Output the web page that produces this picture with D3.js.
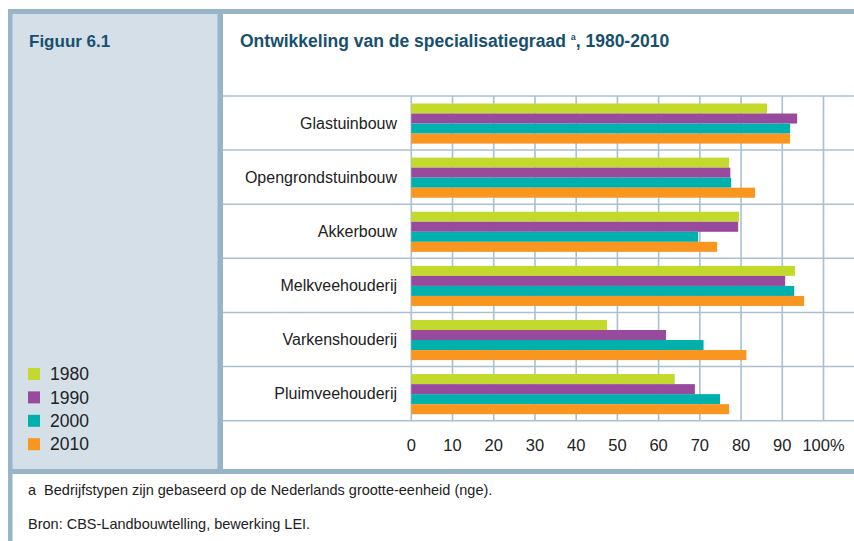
<!DOCTYPE html>
<html>
<head>
<meta charset="utf-8">
<script src="https://cdn.jsdelivr.net/npm/d3@7"></script>
<style>
  body { margin: 0; background: #fff; }
  svg text { font-family: "Liberation Sans", Arial, sans-serif; }
</style>
</head>
<body>
<script>
const categories = ['Glastuinbouw', 'Opengrondstuinbouw', 'Akkerbouw', 'Melkveehouderij', 'Varkenshouderij', 'Pluimveehouderij']
const years = ['1980', '1990', '2000', '2010']
const colors = ['#c3d92c', '#984b9c', '#00b0ad', '#f8961f']
const values1980 = [86.3, 77.1, 79.5, 93.1, 47.5, 63.9]
const values1990 = [93.6, 77.4, 79.3, 90.7, 61.8, 68.8]
const values2000 = [91.9, 77.6, 69.6, 92.9, 70.9, 74.9]
const values2010 = [91.9, 83.4, 74.2, 95.3, 81.3, 77.1]
const xTicks = [0, 10, 20, 30, 40, 50, 60, 70, 80, 90, 100]

const series = [values1980, values1990, values2000, values2010]

const W = 854, H = 541
const frame = '#97b4c8', panel = '#d4dfe8', grid = '#a9c0d1', titleColor = '#17506e'

let svg = d3.select('body').append('svg')
    .attr('width', W)
    .attr('height', H)

// frame and left panel
svg.append('rect').attr('x', 8).attr('y', 9).attr('width', 214).attr('height', 465).attr('fill', panel)
svg.append('rect').attr('x', 8).attr('y', 9).attr('width', W - 8).attr('height', 5).attr('fill', frame)
svg.append('rect').attr('x', 8).attr('y', 9).attr('width', 4.5).attr('height', H - 9).attr('fill', frame)
svg.append('rect').attr('x', 217.5).attr('y', 9).attr('width', 5.5).attr('height', 465).attr('fill', frame)
svg.append('rect').attr('x', 8).attr('y', 469).attr('width', W - 8).attr('height', 5).attr('fill', frame)

svg.append('text')
    .attr('x', 29).attr('y', 47)
    .attr('fill', titleColor)
    .attr('font-size', 17).attr('font-weight', 'bold')
    .text('Figuur 6.1')

let title = svg.append('text')
    .attr('x', 240).attr('y', 47)
    .attr('fill', titleColor)
    .attr('font-size', 17.5).attr('font-weight', 'bold')
title.append('tspan').text('Ontwikkeling van de specialisatiegraad ')
title.append('tspan').attr('font-size', 9).attr('dy', -7).text('a')
title.append('tspan').attr('dy', 7).text(', 1980-2010')

// scales
let x = d3.scaleLinear().domain([0, 100]).range([411.3, 823.5])
let y = d3.scaleBand().domain(categories).range([96, 420.7]).padding(0)
let y1 = d3.scaleBand().domain(years).range([7.5, y.bandwidth() - 6.5]).padding(0)

// horizontal gridlines (band boundaries)
let bounds = categories.map(c => y(c)).concat([y.range()[1]])
svg.append('g')
    .selectAll('line')
    .data(bounds).enter()
    .append('line')
    .attr('x1', 223).attr('x2', W)
    .attr('y1', d => d).attr('y2', d => d)
    .attr('stroke', grid).attr('stroke-width', 1.5)

// vertical gridlines
svg.append('g')
    .selectAll('line')
    .data(xTicks).enter()
    .append('line')
    .attr('x1', d => x(d)).attr('x2', d => x(d))
    .attr('y1', 96).attr('y2', 420.7)
    .attr('stroke', grid).attr('stroke-width', 1.6)

// bars
let groups = svg.append('g')
    .selectAll('g')
    .data(categories).enter()
    .append('g')
    .attr('transform', c => 'translate(0,' + y(c) + ')')

groups.selectAll('rect')
    .data((c, ci) => years.map((yr, si) => ({ yr: yr, v: series[si][ci], si: si })))
    .enter().append('rect')
    .attr('x', x(0))
    .attr('y', d => y1(d.yr))
    .attr('width', d => x(d.v) - x(0))
    .attr('height', y1.bandwidth())
    .attr('fill', d => colors[d.si])

// category labels
svg.append('g')
    .selectAll('text')
    .data(categories).enter()
    .append('text')
    .attr('x', 397)
    .attr('y', c => y(c) + y.bandwidth() / 2)
    .attr('dy', '0.35em')
    .attr('text-anchor', 'end')
    .attr('font-size', 16)
    .attr('fill', '#222')
    .text(c => c)

// x axis labels
svg.append('g')
    .selectAll('text')
    .data(xTicks).enter()
    .append('text')
    .attr('x', d => x(d))
    .attr('y', 445)
    .attr('dy', '0.35em')
    .attr('text-anchor', 'middle')
    .attr('font-size', 16.5)
    .attr('fill', '#222')
    .text(d => d === 100 ? '100%' : d)

// legend
let legend = svg.append('g')
    .selectAll('g')
    .data(years).enter()
    .append('g')
    .attr('transform', (d, i) => 'translate(28,' + (368 + i * 23.4) + ')')
legend.append('rect')
    .attr('width', 12).attr('height', 12)
    .attr('fill', (d, i) => colors[i])
legend.append('text')
    .attr('x', 22).attr('y', 6)
    .attr('dy', '0.35em')
    .attr('font-size', 17.5)
    .attr('fill', '#222')
    .text(d => d)

// footnotes
svg.append('text')
    .attr('x', 28).attr('y', 490).attr('dy', '0.35em')
    .attr('font-size', 14.5).attr('fill', '#222')
    .attr('xml:space', 'preserve')
    .text('a  Bedrijfstypen zijn gebaseerd op de Nederlands grootte-eenheid (nge).')
svg.append('text')
    .attr('x', 28).attr('y', 524).attr('dy', '0.35em')
    .attr('font-size', 14.5).attr('fill', '#222')
    .text('Bron: CBS-Landbouwtelling, bewerking LEI.')
</script>
</body>
</html>
